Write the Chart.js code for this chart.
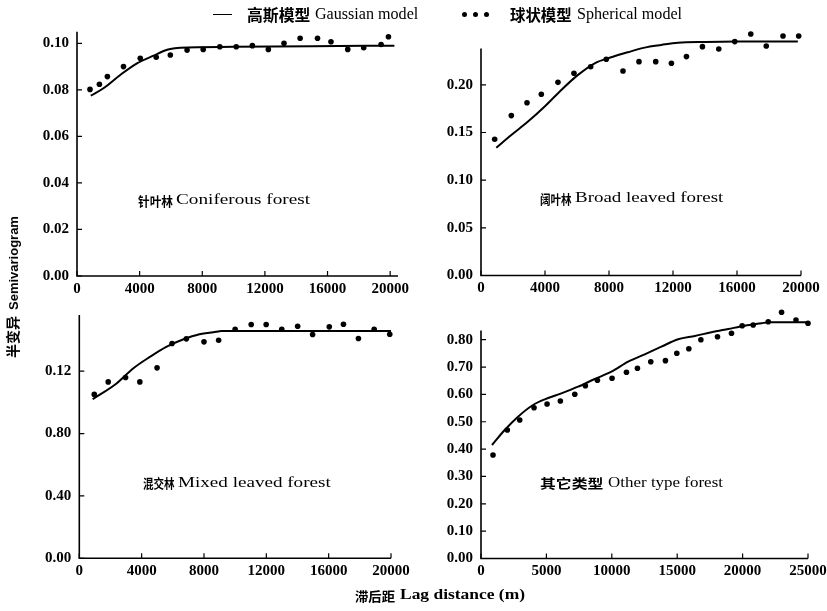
<!DOCTYPE html>
<html>
<head>
<meta charset="utf-8">
<title>Semivariogram of forest types</title>
<script src="https://cdn.jsdelivr.net/npm/chart.js"></script>
<style>
    html, body { margin: 0; padding: 0; background: #fff; }
    #page { position: relative; width: 827px; height: 611px; overflow: hidden; background: #fff; }
    #page canvas { position: absolute; left: 0; top: 0; }
    .txt { position: absolute; white-space: nowrap; color: #000; line-height: 1; transform-origin: left center; }
    .cjk { font-family: "Noto Sans CJK SC", sans-serif; font-weight: 700; }
    .serif { font-family: "Liberation Serif", "Times New Roman", serif; }
    .bold { font-weight: 700; }
    .legline { position: absolute; height: 0; border-top: 1.5px solid #000; }
    .legdot { position: absolute; width: 5px; height: 5px; border-radius: 50%; background: #000; }
    #ytitle { position: absolute; left: 13px; top: 287px; white-space: nowrap; line-height: 1;
              transform: translate(-50%, -50%) rotate(-90deg); }
</style>
</head>
<body>
<div id="page">
    <canvas id="c-conifer" width="827" height="611"></canvas>
    <canvas id="c-broad" width="827" height="611"></canvas>
    <canvas id="c-mixed" width="827" height="611"></canvas>
    <canvas id="c-other" width="827" height="611"></canvas>

    <!-- legend marks -->
    <div class="legline" style="left:213px; top:14px; width:19px;"></div>
    <div class="legdot" style="left:462px; top:12px;"></div>
    <div class="legdot" style="left:473px; top:12px;"></div>
    <div class="legdot" style="left:484px; top:12px;"></div>

    <div id="ytitle"><span class="cjk" style="font-size:14px">半变异</span><span style="font-family:'Liberation Sans',Arial,sans-serif; font-weight:700; font-size:13px; margin-left:6px">Semivariogram</span></div>
</div>

<script>
// ======================================
// DATA
// ======================================

// lag distance ticks (m)
const lagTicks20k = [0, 4000, 8000, 12000, 16000, 20000];
const lagTickLabels20k = ["0", "4000", "8000", "12000", "16000", "20000"];
const lagTicks25k = [0, 5000, 10000, 15000, 20000, 25000];
const lagTickLabels25k = ["0", "5000", "10000", "15000", "20000", "25000"];

// 针叶林 Coniferous forest
const coniferTicks = [0, 0.02, 0.04, 0.06, 0.08, 0.10];
const coniferTickLabels = ["0.00", "0.02", "0.04", "0.06", "0.08", "0.10"];
const coniferLag = [830, 1430, 1940, 2970, 4040, 5060, 5960, 7030, 8060, 9120, 10170, 11200, 12220, 13220, 14250, 15360, 16220, 17290, 18310, 19420, 19890];
const coniferGamma = [0.0802, 0.0824, 0.0857, 0.0900, 0.0936, 0.0940, 0.0950, 0.0971, 0.0974, 0.0985, 0.0985, 0.0990, 0.0974, 0.1000, 0.1022, 0.1022, 0.1007, 0.0974, 0.0981, 0.0995, 0.1028];
const coniferFitLag = [880, 1690, 2760, 3830, 4890, 5530, 5960, 6600, 10000, 15000, 20270];
const coniferFitGamma = [0.0775, 0.0807, 0.0864, 0.0914, 0.0947, 0.0967, 0.0976, 0.0981, 0.0985, 0.0988, 0.0990];

// 阔叶林 Broad leaved forest
const broadTicks = [0, 0.05, 0.10, 0.15, 0.20];
const broadTickLabels = ["0.00", "0.05", "0.10", "0.15", "0.20"];
const broadLag = [855, 1895, 2875, 3770, 4810, 5810, 6855, 7830, 8875, 9875, 10920, 11900, 12840, 13840, 14860, 15860, 16860, 17830, 18875, 19855];
const broadGamma = [0.1429, 0.1677, 0.1812, 0.1901, 0.2026, 0.2121, 0.2190, 0.2268, 0.2145, 0.2243, 0.2243, 0.2226, 0.2296, 0.2400, 0.2376, 0.2453, 0.2533, 0.2407, 0.2512, 0.2512];
const broadFitLag = [956, 1894, 2938, 3981, 5019, 6063, 7106, 8144, 9188, 10231, 11269, 12313, 14000, 16000, 19800];
const broadFitGamma = [0.1341, 0.1474, 0.1614, 0.1772, 0.1946, 0.2104, 0.2226, 0.2289, 0.2342, 0.2390, 0.2418, 0.2442, 0.2450, 0.2453, 0.2453];

// 混交林 Mixed leaved forest (tick labels printed as in the original)
const mixedTicks = [0, 0.04, 0.08, 0.12];
const mixedTickLabels = ["0.00", "0.40", "0.80", "0.12"];
const mixedLag = [960, 1855, 2968, 3884, 4990, 5950, 6870, 8000, 8940, 10000, 11030, 11990, 12990, 14010, 14970, 16040, 16950, 17910, 18920, 19920];
const mixedGamma = [0.1051, 0.1131, 0.1159, 0.1131, 0.1221, 0.1377, 0.1407, 0.1388, 0.1398, 0.1469, 0.1499, 0.1499, 0.1469, 0.1488, 0.1435, 0.1484, 0.1501, 0.1409, 0.1469, 0.1437];
const mixedFitLag = [857, 2390, 3450, 4520, 5580, 6650, 7710, 8780, 9100, 12000, 16000, 20000];
const mixedFitGamma = [0.1020, 0.1121, 0.1217, 0.1291, 0.1356, 0.1403, 0.1437, 0.1452, 0.1458, 0.1458, 0.1458, 0.1458];

// 其它类型 Other type forest
const otherTicks = [0, 0.1, 0.2, 0.3, 0.4, 0.5, 0.6, 0.7, 0.8];
const otherTickLabels = ["0.00", "0.10", "0.20", "0.30", "0.40", "0.50", "0.60", "0.70", "0.80"];
const otherLag = [918, 2012, 2961, 4055, 5050, 6067, 7170, 7980, 8900, 10020, 11120, 11960, 12980, 14100, 14970, 15890, 16810, 18080, 19150, 19970, 20810, 21960, 22980, 24080, 25000];
const otherGamma = [0.3784, 0.4698, 0.5064, 0.5514, 0.5649, 0.5759, 0.6004, 0.6318, 0.6515, 0.6588, 0.6808, 0.6954, 0.7196, 0.7233, 0.7503, 0.7671, 0.8000, 0.8110, 0.8234, 0.8512, 0.8537, 0.8658, 0.9002, 0.8720, 0.8599];
const otherFitLag = [842, 1811, 2831, 3979, 4873, 6144, 7422, 8700, 9970, 11250, 12520, 13790, 15070, 16350, 17620, 18900, 20180, 21450, 21960, 25000];
const otherFitGamma = [0.4150, 0.4698, 0.5185, 0.5612, 0.5820, 0.6039, 0.6281, 0.6563, 0.6830, 0.7196, 0.7466, 0.7744, 0.8014, 0.8135, 0.8270, 0.8391, 0.8512, 0.8600, 0.8636, 0.8636];


// ======================================
// HELPERS
// ======================================

function toXY(xs, ys) {
    return xs.map(function (x, i) { return { x: x, y: ys[i] }; });
}

// L-shaped axes with short inward ticks (y axis stops below the top of the plot box)
const axisFrame = {
    id: "axisFrame",
    afterDatasetsDraw: function (chart, args, opts) {
        const ctx = chart.ctx;
        const xs = chart.scales.x;
        const ys = chart.scales.y;
        const left = xs.left, right = xs.right, bottom = ys.bottom;
        const top = ys.getPixelForValue(opts.yTop);

        ctx.save();
        ctx.strokeStyle = "#000";
        ctx.lineWidth = 1.6;
        ctx.beginPath();
        ctx.moveTo(left, top);
        ctx.lineTo(left, bottom);
        ctx.lineTo(right, bottom);
        ctx.stroke();

        ctx.lineWidth = 1.2;
        ctx.beginPath();
        xs.ticks.forEach(function (t) {
            const px = xs.getPixelForValue(t.value);
            ctx.moveTo(px, bottom);
            ctx.lineTo(px, bottom - 5);
        });
        ys.ticks.forEach(function (t) {
            const py = ys.getPixelForValue(t.value);
            ctx.moveTo(left, py);
            ctx.lineTo(left + 5, py);
        });
        ctx.stroke();
        ctx.restore();
    }
};

const tickFont = { family: "'Liberation Serif', 'Times New Roman', serif", size: 15, weight: "bold" };

function makePanel(canvasId, p) {
    const yAxisWidth = 50;
    const xAxisHeight = 24;

    new Chart(document.getElementById(canvasId), {
        type: "scatter",
        data: {
            datasets: [{
                type: "line",
                label: "高斯模型 Gaussian model",
                data: toXY(p.fitLag, p.fitGamma),
                borderColor: "#000",
                borderWidth: 2,
                pointRadius: 0,
                cubicInterpolationMode: "monotone",
                fill: false,
                clip: false
            }, {
                type: "scatter",
                label: "球状模型 Spherical model",
                data: toXY(p.lag, p.gamma),
                backgroundColor: "#000",
                borderColor: "#000",
                borderWidth: 0,
                pointRadius: 2.8,
                clip: false
            }]
        },
        options: {
            responsive: false,
            animation: false,
            events: [],
            layout: {
                padding: {
                    left: p.area.l - yAxisWidth,
                    right: 827 - p.area.r,
                    top: p.area.t,
                    bottom: 611 - p.area.b - xAxisHeight
                }
            },
            plugins: {
                legend: { display: false },
                tooltip: { enabled: false },
                axisFrame: { yTop: p.yTop }
            },
            scales: {
                x: {
                    type: "linear",
                    min: 0,
                    max: p.xMax,
                    afterBuildTicks: function (s) { s.ticks = p.xTicks.map(function (v) { return { value: v }; }); },
                    afterFit: function (s) { s.height = xAxisHeight; s.paddingLeft = 0; s.paddingRight = 0; },
                    grid: { display: false, drawTicks: false },
                    border: { display: false },
                    ticks: {
                        color: "#000",
                        font: tickFont,
                        padding: 4,
                        maxRotation: 0,
                        autoSkip: false,
                        callback: function (value, index) { return p.xLabels[index]; }
                    }
                },
                y: {
                    type: "linear",
                    min: 0,
                    max: p.yMax,
                    afterBuildTicks: function (s) { s.ticks = p.yTicks.map(function (v) { return { value: v }; }); },
                    afterFit: function (s) { s.width = yAxisWidth; s.paddingTop = 0; s.paddingBottom = 0; },
                    grid: { display: false, drawTicks: false },
                    border: { display: false },
                    ticks: {
                        color: "#000",
                        font: tickFont,
                        padding: 8,
                        autoSkip: false,
                        callback: function (value, index) { return p.yLabels[index]; }
                    }
                }
            }
        },
        plugins: [axisFrame]
    });
}


// ======================================
// PANELS
// ======================================

makePanel("c-conifer", {
    area: { l: 77, t: 31.7, r: 398, b: 276 },
    xMax: 20500, yMax: 0.105, yTop: 0.105,
    xTicks: lagTicks20k, xLabels: lagTickLabels20k,
    yTicks: coniferTicks, yLabels: coniferTickLabels,
    lag: coniferLag, gamma: coniferGamma, fitLag: coniferFitLag, fitGamma: coniferFitGamma
});

makePanel("c-broad", {
    area: { l: 481, t: 27.6, r: 801, b: 275.5 },
    xMax: 20000, yMax: 0.26, yTop: 0.238,
    xTicks: lagTicks20k, xLabels: lagTickLabels20k,
    yTicks: broadTicks, yLabels: broadTickLabels,
    lag: broadLag, gamma: broadGamma, fitLag: broadFitLag, fitGamma: broadFitGamma
});

makePanel("c-mixed", {
    area: { l: 79.3, t: 315, r: 391, b: 558.3 },
    xMax: 20000, yMax: 0.156, yTop: 0.156,
    xTicks: lagTicks20k, xLabels: lagTickLabels20k,
    yTicks: mixedTicks, yLabels: mixedTickLabels,
    lag: mixedLag, gamma: mixedGamma, fitLag: mixedFitLag, fitGamma: mixedFitGamma
});

makePanel("c-other", {
    area: { l: 481, t: 309.6, r: 808, b: 558.5 },
    xMax: 25000, yMax: 0.91, yTop: 0.834,
    xTicks: lagTicks25k, xLabels: lagTickLabels25k,
    yTicks: otherTicks, yLabels: otherTickLabels,
    lag: otherLag, gamma: otherGamma, fitLag: otherFitLag, fitGamma: otherFitGamma
});


// ======================================
// TEXT — legend, panel names, x title
// (each piece is stretched to the width it has in the scan)
// ======================================

const page = document.getElementById("page");

function placeText(text, x0, x1, yc, cls, size) {
    const el = document.createElement("span");
    el.className = "txt " + cls;
    el.style.fontSize = size + "px";
    el.textContent = text;
    page.appendChild(el);
    const box = el.getBoundingClientRect();
    el.style.left = x0 + "px";
    el.style.top = (yc - box.height / 2) + "px";
    el.style.transform = "scaleX(" + ((x1 - x0) / box.width).toFixed(3) + ")";
}

// legend
placeText("高斯模型", 246.7, 310, 14.3, "cjk", 15.5);
placeText("Gaussian model", 315, 418.3, 14.3, "serif", 16);
placeText("球状模型", 510, 571.7, 14.3, "cjk", 15.5);
placeText("Spherical model", 576.7, 681.7, 14.3, "serif", 16);

// panel names
placeText("针叶林", 138.3, 173.3, 200, "cjk", 13);
placeText("Coniferous forest", 176, 310, 200, "serif", 14);
placeText("阔叶林", 540, 571.7, 198, "cjk", 13);
placeText("Broad leaved forest", 575, 723.3, 198, "serif", 14);
placeText("混交林", 143.3, 175, 482.5, "cjk", 13);
placeText("Mixed leaved forest", 178.3, 331, 482.5, "serif", 14);
placeText("其它类型", 540, 603.3, 482.5, "cjk", 13);
placeText("Other type forest", 608.3, 723.3, 482.5, "serif", 14);

// x axis title
placeText("滞后距", 355, 395, 595, "cjk", 13);
placeText("Lag distance (m)", 400, 525, 595, "serif bold", 14);
</script>
</body>
</html>
